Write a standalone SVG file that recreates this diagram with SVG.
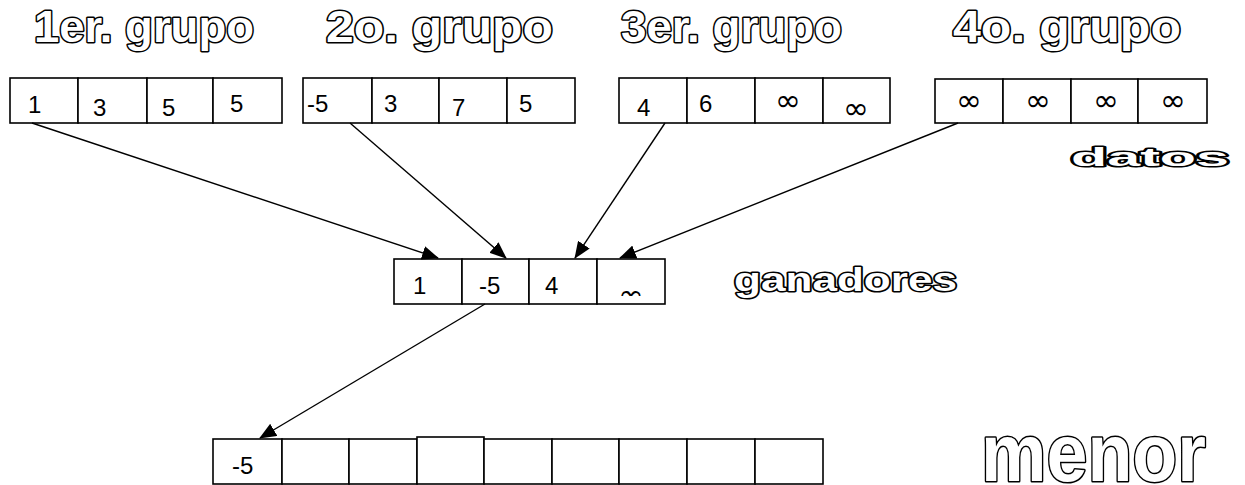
<svg xmlns="http://www.w3.org/2000/svg" width="1245" height="485" viewBox="0 0 1245 485">
  <style>
    .cell { fill: #fff; stroke: #000; stroke-width: 1.6; }
    .num { font-family: "Liberation Sans", Arial, sans-serif; font-size: 24px; fill: #000; }
    .inf { font-family: "DejaVu Sans", "Liberation Sans", sans-serif; font-size: 31px; fill: #000; }
    .outline { font-family: "Liberation Sans", Arial, sans-serif; font-weight: 700; fill: #fff; stroke: #000; stroke-width: 3; stroke-linejoin: round; paint-order: stroke; }
    .link { stroke: #000; stroke-width: 1.4; fill: none; marker-end: url(#head); }
  </style>
  <defs>
    <marker id="head" viewBox="0 0 17 14" refX="16" refY="7" markerWidth="17" markerHeight="14" markerUnits="userSpaceOnUse" orient="auto">
      <path d="M0,0 L17,7 L0,14 Z" fill="#000"/>
    </marker>
    <clipPath id="clipWin4">
      <rect x="598" y="260" width="66" height="36"/>
    </clipPath>
  </defs>

  <!-- group headings -->
  <g id="titles">
    <text class="outline" x="34" y="42" font-size="45" textLength="220" lengthAdjust="spacingAndGlyphs">1er. grupo</text>
    <text class="outline" x="326" y="42" font-size="45" textLength="227" lengthAdjust="spacingAndGlyphs">2o. grupo</text>
    <text class="outline" x="621" y="42" font-size="45" textLength="221" lengthAdjust="spacingAndGlyphs">3er. grupo</text>
    <text class="outline" x="953" y="42" font-size="45" textLength="228" lengthAdjust="spacingAndGlyphs">4o. grupo</text>
  </g>

  <!-- group 1 -->
  <g id="group1">
    <rect class="cell" x="10" y="78" width="68" height="45"/>
    <rect class="cell" x="78" y="78" width="69" height="45"/>
    <rect class="cell" x="147" y="78" width="66" height="45"/>
    <rect class="cell" x="213" y="78" width="69" height="45"/>
    <text class="num" x="28" y="113">1</text>
    <text class="num" x="93" y="116">3</text>
    <text class="num" x="162" y="116">5</text>
    <text class="num" x="230" y="112">5</text>
  </g>

  <!-- group 2 -->
  <g id="group2">
    <rect class="cell" x="303" y="78" width="69" height="45"/>
    <rect class="cell" x="372" y="78" width="67" height="45"/>
    <rect class="cell" x="439" y="78" width="68" height="45"/>
    <rect class="cell" x="507" y="78" width="68" height="45"/>
    <text class="num" x="307" y="112">-5</text>
    <text class="num" x="384" y="112">3</text>
    <text class="num" x="452" y="116">7</text>
    <text class="num" x="519" y="112">5</text>
  </g>

  <!-- group 3 -->
  <g id="group3">
    <rect class="cell" x="619" y="78" width="68" height="45"/>
    <rect class="cell" x="687" y="78" width="68" height="45"/>
    <rect class="cell" x="755" y="78" width="68" height="45"/>
    <rect class="cell" x="823" y="78" width="67" height="45"/>
    <text class="num" x="637" y="116">4</text>
    <text class="num" x="699" y="112">6</text>
    <text class="inf" x="775" y="111">∞</text>
    <text class="inf" x="843" y="119">∞</text>
  </g>

  <!-- group 4 -->
  <g id="group4">
    <rect class="cell" x="935" y="79" width="68" height="44"/>
    <rect class="cell" x="1003" y="79" width="68" height="44"/>
    <rect class="cell" x="1071" y="79" width="67" height="44"/>
    <rect class="cell" x="1138" y="79" width="69" height="44"/>
    <text class="inf" x="956" y="111">∞</text>
    <text class="inf" x="1025" y="111">∞</text>
    <text class="inf" x="1093" y="111">∞</text>
    <text class="inf" x="1160" y="111">∞</text>
  </g>

  <g id="label-datos">
    <text class="outline" x="1071" y="166" font-size="26" textLength="158" lengthAdjust="spacingAndGlyphs">datos</text>
  </g>

  <!-- winners row -->
  <g id="winners">
    <rect class="cell" x="394" y="259" width="68" height="45"/>
    <rect class="cell" x="462" y="259" width="67" height="45"/>
    <rect class="cell" x="529" y="259" width="68" height="45"/>
    <rect class="cell" x="597" y="259" width="68" height="45"/>
    <text class="num" x="413" y="294">1</text>
    <text class="num" x="479" y="294">-5</text>
    <text class="num" x="545" y="294">4</text>
    <text class="inf" x="618" y="306" clip-path="url(#clipWin4)">∞</text>
  </g>

  <g id="label-ganadores">
    <text class="outline" x="734" y="291" font-size="34" textLength="223" lengthAdjust="spacingAndGlyphs">ganadores</text>
  </g>

  <!-- output row -->
  <g id="output">
    <rect class="cell" x="213" y="439" width="69" height="45"/>
    <rect class="cell" x="282" y="439" width="67" height="45"/>
    <rect class="cell" x="349" y="439" width="68" height="45"/>
    <rect class="cell" x="417" y="437" width="67" height="47"/>
    <rect class="cell" x="484" y="439" width="68" height="45"/>
    <rect class="cell" x="552" y="439" width="67" height="45"/>
    <rect class="cell" x="619" y="439" width="68" height="45"/>
    <rect class="cell" x="687" y="439" width="68" height="45"/>
    <rect class="cell" x="755" y="439" width="68" height="45"/>
    <text class="num" x="232" y="474" font-size="22">-5</text>
  </g>

  <g id="label-menor">
    <text class="outline" x="981" y="481" font-size="81" textLength="225" lengthAdjust="spacingAndGlyphs">menor</text>
  </g>

  <!-- connectors -->
  <g id="connectors">
    <line class="link" x1="32" y1="123" x2="438" y2="258"/>
    <line class="link" x1="350" y1="123" x2="506" y2="258"/>
    <line class="link" x1="665" y1="123" x2="575" y2="258"/>
    <line class="link" x1="958" y1="123" x2="620" y2="258"/>
    <line class="link" x1="485" y1="304" x2="260" y2="438"/>
  </g>
</svg>
